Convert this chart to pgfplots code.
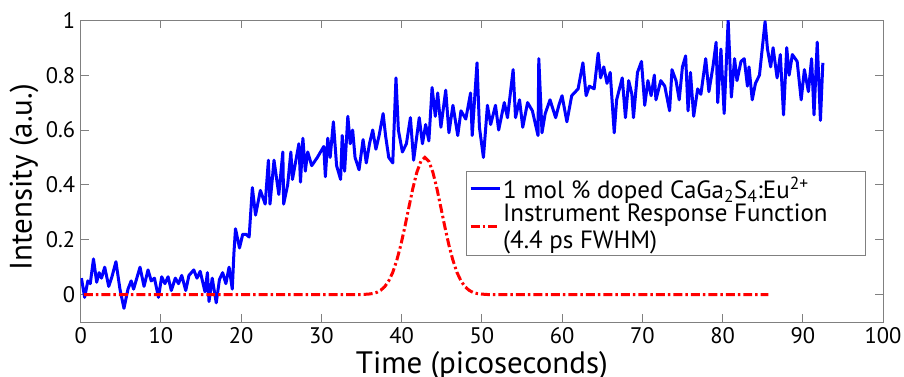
\documentclass[border=0pt]{standalone}
\usepackage{fontspec}
\setmainfont{PT Sans}
\usepackage{pgfplots}
\pgfplotsset{compat=1.18}
\definecolor{axgray}{RGB}{128,128,128}
\begin{document}
\begin{tikzpicture}
\begin{axis}[
  name=ax,
  scale only axis,
  width=803pt, height=302pt,
  xmin=0, xmax=100, ymin=-0.1, ymax=1,
  xtick={0,10,...,100},
  ytick={0,0.2,0.4,0.6,0.8,1},
  yticklabels={0,0.2,0.4,0.6,0.8,1},
  tick align=inside, tick pos=both,
  major tick length=8pt,
  axis line style={axgray, line width=0.8pt},
  tick style={axgray, line width=0.8pt},
  /pgf/number format/assume math mode=true,
  tick label style={font=\fontsize{22.5}{26}\selectfont, black},
  xticklabel style={yshift=-2pt},
  yticklabel style={xshift=-2pt},
  label style={font=\fontsize{31}{35}\selectfont},
  xlabel={Time (picoseconds)},
  ylabel={Intensity (a.u.)},
  xlabel style={at={(axis description cs:0.5,0)}, anchor=base, yshift=-51pt},
  ylabel style={at={(axis description cs:-0.0706,0.48)}, anchor=center},
  legend style={at={(axis cs:48,0.449)}, anchor=north west, draw=axgray, line width=0.8pt,
    font=\fontsize{25}{27}\selectfont, cells={align=left, anchor=west},
    inner xsep=3pt, inner ysep=3pt, row sep=0pt},
  legend image code/.code={\draw[#1] (0pt,0pt) -- (29pt,0pt);},
]
\addplot[blue, line width=3pt, line join=round] coordinates {
(0.1,0.06)(0.5,-0.01)(0.9,0.05)(1.2,0.04)(1.6,0.13)(2.0,0.045)(2.3,0.08)(2.6,0.06)(3.0,0.10)(3.5,0.03)
(3.9,0.065)(4.4,0.12)(4.9,0.02)(5.4,-0.05)(5.9,0.02)(6.3,0.05)(6.6,0.02)(7.0,0.06)(7.4,0.10)(7.9,0.03)
(8.4,0.09)(8.8,0.05)(9.2,0.06)(9.7,-0.01)(10.1,0.065)(10.5,0.04)(10.9,0.065)(11.3,0.015)(11.8,0.06)(12.2,0.04)
(12.6,0.07)(13.1,0.015)(13.5,0.07)(14.1,0.09)(14.5,0.06)(14.9,0.085)(15.5,0.01)(15.8,0.08)(16.0,-0.025)(16.4,0.06)
(16.9,-0.03)(17.3,0.055)(17.7,0.08)(18.1,0.04)(18.5,0.10)(18.9,0.02)(19.1,0.15)(19.3,0.24)(19.8,0.17)(20.2,0.22)
(20.6,0.22)(21.0,0.21)(21.4,0.39)(21.8,0.29)(22.4,0.38)(23.0,0.33)(23.4,0.49)(23.6,0.33)(24.1,0.49)(24.7,0.365)
(25.2,0.52)(25.3,0.33)(25.8,0.40)(26.2,0.52)(26.4,0.42)(27.2,0.55)(27.4,0.41)(27.7,0.57)(28.0,0.45)(28.3,0.52)
(28.8,0.47)(29.5,0.50)(30.3,0.54)(30.5,0.43)(30.8,0.57)(31.1,0.50)(31.5,0.63)(31.9,0.47)(32.4,0.42)(32.6,0.58)
(32.9,0.45)(33.3,0.65)(33.6,0.55)(33.9,0.60)(34.2,0.50)(34.7,0.455)(35.2,0.565)(35.6,0.48)(36.0,0.55)(36.4,0.60)
(36.8,0.53)(37.2,0.58)(37.7,0.66)(38.0,0.58)(38.4,0.50)(38.9,0.48)(39.3,0.79)(39.6,0.60)(40.1,0.52)(40.6,0.55)
(41.1,0.645)(41.5,0.49)(42.2,0.645)(42.6,0.55)(43.0,0.62)(43.4,0.56)(43.8,0.755)(44.2,0.65)(44.5,0.735)(44.9,0.61)
(45.5,0.745)(45.9,0.59)(46.4,0.69)(47.0,0.58)(47.4,0.67)(48.0,0.64)(48.6,0.735)(48.8,0.58)(49.4,0.845)(49.7,0.61)
(50.2,0.50)(50.7,0.69)(51.1,0.62)(51.7,0.69)(52.1,0.60)(52.8,0.70)(53.2,0.645)(53.9,0.82)(54.2,0.645)(54.7,0.71)
(55.1,0.61)(55.7,0.70)(56.3,0.67)(57.0,0.58)(57.1,0.86)(57.5,0.59)(57.9,0.66)(58.5,0.71)(59.2,0.645)(59.6,0.69)
(60.0,0.725)(60.6,0.63)(61.2,0.725)(62.0,0.75)(62.6,0.845)(63.0,0.725)(63.4,0.76)(64.0,0.75)(64.5,0.88)(64.8,0.79)
(65.2,0.83)(65.6,0.77)(66.0,0.81)(66.5,0.59)(66.8,0.71)(67.5,0.79)(67.9,0.645)(68.3,0.78)(68.7,0.73)(68.9,0.645)
(69.4,0.81)(69.9,0.85)(70.3,0.69)(70.7,0.78)(71.1,0.725)(71.5,0.80)(71.7,0.71)(72.3,0.78)(72.8,0.76)(73.4,0.67)
(73.7,0.82)(74.2,0.78)(74.6,0.71)(75.0,0.83)(75.4,0.87)(75.7,0.67)(76.0,0.81)(76.4,0.65)(76.9,0.75)(77.3,0.73)
(77.9,0.86)(78.3,0.74)(78.8,0.83)(79.2,0.92)(79.4,0.70)(79.8,0.895)(80.2,0.66)(80.7,1.0)(81.1,0.72)(81.5,0.86)
(81.8,0.78)(82.3,0.85)(82.7,0.86)(83.1,0.76)(83.3,0.83)(83.7,0.71)(84.1,0.77)(84.6,0.80)(85.3,0.995)(85.6,0.895)
(86.0,0.83)(86.3,0.90)(86.8,0.79)(87.2,0.875)(87.6,0.655)(88.0,0.90)(88.3,0.80)(88.7,0.875)(89.3,0.85)(89.8,0.71)
(90.2,0.82)(90.7,0.74)(91.1,0.86)(91.4,0.655)(91.8,0.92)(92.2,0.635)(92.5,0.845)
};
\addlegendentry{1 mol \% doped CaGa\textsubscript{2}S\textsubscript{4}:Eu\textsuperscript{2+}}
\addplot[red, line width=3pt, dash pattern=on 9pt off 3pt on 2.5pt off 3pt] coordinates {
(0.4,0)(10,0)(20,0)(30,0)(34.9,0)(35.9,0.002)(36.4,0.004)(36.9,0.008)(37.4,0.016)(37.9,0.029)(38.4,0.050)
(38.9,0.081)(39.4,0.125)(39.9,0.180)(40.4,0.246)(40.9,0.317)(41.4,0.387)(41.9,0.446)(42.4,0.486)(42.9,0.5)
(43.4,0.486)(43.9,0.446)(44.4,0.387)(44.9,0.317)(45.4,0.246)(45.9,0.180)(46.4,0.125)(46.9,0.081)(47.4,0.050)
(47.9,0.029)(48.4,0.016)(48.9,0.008)(49.4,0.004)(49.9,0.002)(50.9,0)(60,0)(70,0)(80,0)(85.7,0)
};
\addlegendentry{Instrument Response Function\hspace*{33pt}\\(4.4 ps FWHM)}
\end{axis}
\pgfresetboundingbox
\path ([xshift=-80.7pt,yshift=-54.3pt]ax.south west) rectangle ([xshift=21pt,yshift=20.3pt]ax.north east);
\end{tikzpicture}
\end{document}
